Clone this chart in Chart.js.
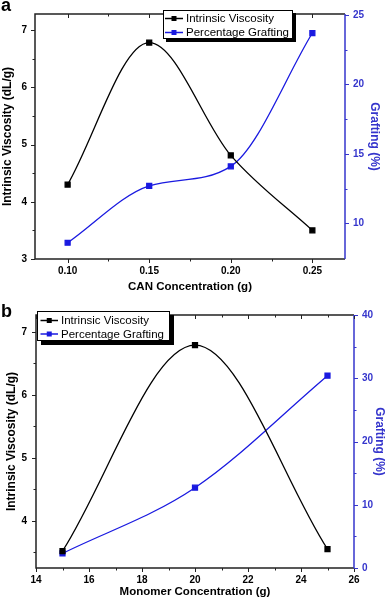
<!DOCTYPE html>
<html>
<head>
<meta charset="utf-8">
<script src="https://cdn.jsdelivr.net/npm/chart.js@4.4.1/dist/chart.umd.min.js"></script>
<style>
body { margin: 0; background: #fff; font-family: "Liberation Sans", Arial, sans-serif; }
#wrap { position: relative; width: 387px; height: 599px; }
.panel { position: absolute; left: 0; width: 387px; }
.tag { position: absolute; font-weight: bold; font-size: 18px; line-height: 1; }
</style>
</head>
<body>
<div id="wrap">
  <div class="panel" style="top:0;height:300px"><canvas id="chartA"></canvas></div>
  <div class="panel" style="top:300px;height:299px"><canvas id="chartB"></canvas></div>
  <div class="tag" style="left:1px;top:-4px">a</div>
  <div class="tag" style="left:1px;top:302px">b</div>
</div>
<script>
// (a) effect of CAN concentration
var canConc = [0.10, 0.15, 0.20, 0.25]
var canViscosity = [4.30, 6.78, 4.81, 3.50]
var canGrafting = [8.6, 12.7, 14.1, 23.7]

// (b) effect of monomer concentration
var monoConc = [15, 20, 25]
var monoViscosity = [3.52, 6.79, 3.55]
var monoGrafting = [2.3, 12.7, 30.4]

// tick positions (major ones get labels)
var canTicks = [0.10, 0.15, 0.20, 0.25]
var canMinor = [0.125, 0.175, 0.225]
var viscTicksA = [3, 4, 5, 6, 7]
var viscMinorA = [3.5, 4.5, 5.5, 6.5]
var graftTicksA = [10, 15, 20, 25]
var graftMinorA = [12.5, 17.5, 22.5]
var monoTicks = [14, 16, 18, 20, 22, 24, 26]
var monoMinor = [15, 17, 19, 21, 23, 25]
var viscTicksB = [4, 5, 6, 7]
var viscMinorB = [3.5, 4.5, 5.5, 6.5]
var graftTicksB = [0, 10, 20, 30, 40]
var graftMinorB = [5, 15, 25, 35]

var FONT = "'Liberation Sans', Arial, sans-serif"
var BLUE = '#1a1ae0'
var AXIS_BLUE = '#3535cc'

function pts(xs, ys) {
    return xs.map(function (x, i) { return { x: x, y: ys[i] } })
}

function setTicks(list) {
    return function (scale) {
        scale.ticks = list.map(function (v) { return { value: v } })
    }
}

function series(label, data, color, axis) {
    return {
        label: label,
        data: data,
        borderColor: color,
        backgroundColor: color,
        borderWidth: 1.3,
        pointStyle: 'rect',
        pointRadius: 3.5,
        pointHoverRadius: 3.5,
        cubicInterpolationMode: 'monotone',
        yAxisID: axis
    }
}

// box frame + major/minor tick marks, Origin style
var framePlugin = {
    id: 'frame',
    afterDatasetsDraw: function (chart, args, o) {
        var ctx = chart.ctx, a = chart.chartArea, s = chart.scales
        ctx.save()
        ctx.lineWidth = 1.5
        ctx.strokeStyle = '#222'
        ctx.beginPath()
        ctx.moveTo(a.right, a.top)
        ctx.lineTo(a.left, a.top)
        ctx.lineTo(a.left, a.bottom)
        ctx.lineTo(a.right, a.bottom)
        ctx.stroke()
        ctx.strokeStyle = AXIS_BLUE
        ctx.beginPath()
        ctx.moveTo(a.right, a.top)
        ctx.lineTo(a.right, a.bottom)
        ctx.stroke()

        ctx.lineWidth = 1
        function marks(vals, len, scale, side, color) {
            ctx.strokeStyle = color
            ctx.beginPath()
            vals.forEach(function (v) {
                var p = Math.round(scale.getPixelForValue(v)) + 0.5
                if (side == 'bottom') { ctx.moveTo(p, a.bottom); ctx.lineTo(p, a.bottom + len) }
                if (side == 'top') { ctx.moveTo(p, a.top); ctx.lineTo(p, a.top + len) }
                if (side == 'left') { ctx.moveTo(a.left, p); ctx.lineTo(a.left - len, p) }
                if (side == 'right') { ctx.moveTo(a.right, p); ctx.lineTo(a.right + len, p) }
            })
            ctx.stroke()
        }
        marks(o.x[0], 4, s.x, 'bottom', '#222')
        marks(o.x[1], 2.5, s.x, 'bottom', '#222')
        marks(o.x[0], 4, s.x, 'top', '#222')
        marks(o.x[1], 2.5, s.x, 'top', '#222')
        marks(o.y[0], 4, s.y, 'left', '#222')
        marks(o.y[1], 2.5, s.y, 'left', '#222')
        marks(o.y2[0], 4, s.y2, 'right', AXIS_BLUE)
        marks(o.y2[1], 2.5, s.y2, 'right', AXIS_BLUE)
        ctx.restore()
    }
}

// boxed legend with drop shadow inside the plot
var boxLegend = {
    id: 'boxLegend',
    afterDraw: function (chart, args, o) {
        var ctx = chart.ctx
        ctx.save()
        ctx.fillStyle = '#000'
        ctx.fillRect(o.x + o.shadow, o.y + o.shadow, o.w, o.h)
        ctx.fillStyle = '#fff'
        ctx.fillRect(o.x, o.y, o.w, o.h)
        ctx.strokeStyle = '#000'
        ctx.lineWidth = 1
        ctx.strokeRect(o.x + 0.5, o.y + 0.5, o.w - 1, o.h - 1)
        chart.data.datasets.forEach(function (ds, i) {
            var cy = o.y + o.rows[i]
            var x0 = o.x + o.line[0], x1 = o.x + o.line[1]
            ctx.strokeStyle = ds.borderColor
            ctx.lineWidth = 1.5
            ctx.beginPath()
            ctx.moveTo(x0, cy)
            ctx.lineTo(x1, cy)
            ctx.stroke()
            ctx.fillStyle = ds.borderColor
            ctx.fillRect((x0 + x1) / 2 - 2.5, cy - 2.5, 5, 5)
            ctx.fillStyle = '#000'
            ctx.font = '11.5px ' + FONT
            ctx.textBaseline = 'middle'
            ctx.fillText(ds.label, o.x + o.tx, cy + 0.5)
        })
        ctx.restore()
    }
}

function tickFont() { return { family: FONT, size: 10, weight: 'bold' } }
function titleFont(sz) { return { family: FONT, size: sz, weight: 'bold' } }
var noGrid = { display: false, drawTicks: false, tickLength: 0 }

var chartA = new Chart(document.getElementById('chartA'), {
    type: 'line',
    data: {
        datasets: [
            series('Intrinsic Viscosity', pts(canConc, canViscosity), '#000', 'y'),
            series('Percentage Grafting', pts(canConc, canGrafting), BLUE, 'y2')
        ]
    },
    plugins: [framePlugin, boxLegend],
    options: {
        responsive: true,
        maintainAspectRatio: false,
        animation: false,
        layout: { padding: { top: 5, left: 0, right: 0, bottom: 0 } },
        plugins: {
            legend: { display: false },
            tooltip: { enabled: false },
            frame: { x: [canTicks, canMinor], y: [viscTicksA, viscMinorA], y2: [graftTicksA, graftMinorA] },
            boxLegend: { x: 163, y: 10, w: 130, h: 29, shadow: 3, rows: [8.5, 22.5], line: [2, 20], tx: 23 }
        },
        scales: {
            x: {
                type: 'linear', position: 'bottom', min: 0.08, max: 0.27,
                afterBuildTicks: setTicks(canTicks),
                afterFit: function (s) { s.height = 41 },
                grid: noGrid, border: { display: false },
                ticks: { font: tickFont(), color: '#000', padding: 6, maxRotation: 0,
                    callback: function (v) { return v.toFixed(2) } },
                title: { display: true, text: 'CAN Concentration (g)', font: titleFont(11.5), color: '#000', padding: { top: 0, bottom: 6 } }
            },
            y: {
                type: 'linear', position: 'left', min: 3, max: 7.28,
                afterBuildTicks: setTicks(viscTicksA),
                afterFit: function (s) { s.width = 35 },
                grid: noGrid, border: { display: false },
                ticks: { font: tickFont(), color: '#000', padding: 8, callback: function (v) { return String(v) } },
                title: { display: true, text: 'Intrinsic Viscosity (dL/g)', font: titleFont(12), color: '#000', padding: { top: 0, bottom: 0 } }
            },
            y2: {
                type: 'linear', position: 'right', min: 7.43, max: 25.07,
                afterBuildTicks: setTicks(graftTicksA),
                afterFit: function (s) { s.width = 42 },
                grid: noGrid, border: { display: false },
                ticks: { font: tickFont(), color: AXIS_BLUE, padding: 8, callback: function (v) { return String(v) } },
                title: { display: true, text: 'Grafting (%)', font: titleFont(12), color: AXIS_BLUE, padding: { top: 5, bottom: 0 } }
            }
        }
    }
})

var chartB = new Chart(document.getElementById('chartB'), {
    type: 'line',
    data: {
        datasets: [
            series('Intrinsic Viscosity', pts(monoConc, monoViscosity), '#000', 'y'),
            series('Percentage Grafting', pts(monoConc, monoGrafting), BLUE, 'y2')
        ]
    },
    plugins: [framePlugin, boxLegend],
    options: {
        responsive: true,
        maintainAspectRatio: false,
        animation: false,
        layout: { padding: { top: 8, left: 0, right: 0, bottom: 0 } },
        plugins: {
            legend: { display: false },
            tooltip: { enabled: false },
            frame: { x: [monoTicks, monoMinor], y: [viscTicksB, viscMinorB], y2: [graftTicksB, graftMinorB] },
            boxLegend: { x: 37, y: 11, w: 133, h: 30, shadow: 4, rows: [9.5, 23], line: [3.5, 21], tx: 24 }
        },
        scales: {
            x: {
                type: 'linear', position: 'bottom', min: 14, max: 26,
                afterBuildTicks: setTicks(monoTicks),
                afterFit: function (s) { s.height = 31 },
                grid: noGrid, border: { display: false },
                ticks: { font: tickFont(), color: '#000', padding: 6, maxRotation: 0, callback: function (v) { return String(v) } },
                title: { display: true, text: 'Monomer Concentration (g)', font: titleFont(11.5), color: '#000', padding: { top: 0, bottom: 0 } }
            },
            y: {
                type: 'linear', position: 'left', min: 3.25, max: 7.27,
                afterBuildTicks: setTicks(viscTicksB),
                afterFit: function (s) { s.width = 36 },
                grid: noGrid, border: { display: false },
                ticks: { font: tickFont(), color: '#000', padding: 9, callback: function (v) { return String(v) } },
                title: { display: true, text: 'Intrinsic Viscosity (dL/g)', font: titleFont(12), color: '#000', padding: { top: 4, bottom: 0 } }
            },
            y2: {
                type: 'linear', position: 'right', min: 0, max: 40,
                afterBuildTicks: setTicks(graftTicksB),
                afterFit: function (s) { s.width = 33 },
                grid: noGrid, border: { display: false },
                ticks: { font: tickFont(), color: AXIS_BLUE, padding: 8, callback: function (v) { return String(v) } },
                title: { display: true, text: 'Grafting (%)', font: titleFont(12), color: AXIS_BLUE, padding: { top: 0, bottom: 0 } }
            }
        }
    }
})
</script>
</body>
</html>
